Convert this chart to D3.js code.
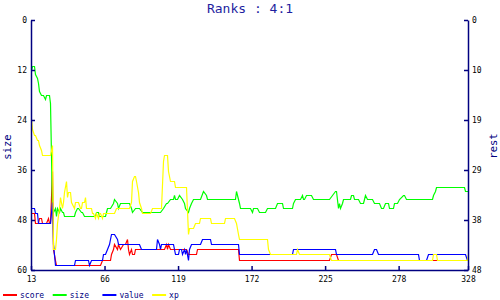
<!DOCTYPE html>
<html>
<head>
<meta charset="utf-8">
<script src="https://cdn.jsdelivr.net/npm/d3@7"></script>
<style>
  body { margin: 0; background: #fff; }
  text { font-family: "DejaVu Sans Mono", monospace; }
</style>
</head>
<body>
<div id="chart"></div>
<script>
// ranks per turn
var xTicks = [13, 66, 119, 172, 225, 278, 328];
var leftTicks = [0, 12, 24, 36, 48, 60];
var rightTicks = [0, 9.6, 19.2, 28.8, 38.4, 48];

var score = [[13,37],[15,37],[16,39],[18,39],[19,38],[20,38],[21,39],[24,39],[25,38],[26,39],[27,39],[28,29],[29,44],[30,46],[31,47],[63,47],[64,46],[70,46],[71,45],[72,44],[73,43],[75,44],[76,43],[77,44],[79,43],[81,43],[82,42],[83,44],[84,45],[85,44],[86,45],[87,45],[88,44],[109,44],[110,43],[111,44],[112,43],[113,44],[125,44],[126,45],[132,45],[133,44],[162,44],[163,46],[228,46],[229,45],[233,45],[234,46],[328,46]];

var size = [[13,12],[14,11],[15,11],[16,13],[17,14],[18,15],[19,17],[20,18],[22,18],[23,19],[24,18],[26,18],[27,20],[28,45],[29,46],[30,45],[31,47],[32,45],[33,46],[34,45],[35,46],[36,46],[37,47],[44,47],[45,46],[46,45],[47,45],[49,46],[50,46],[51,47],[59,47],[60,46],[61,46],[62,47],[66,47],[67,46],[68,45],[70,45],[72,44],[73,43],[75,44],[76,45],[77,44],[84,44],[85,45],[86,46],[88,45],[91,45],[93,46],[106,46],[108,45],[110,44],[111,44],[113,43],[115,43],[116,42],[117,43],[118,43],[120,42],[122,43],[123,44],[124,45],[126,46],[127,45],[128,44],[130,43],[135,43],[137,41],[139,42],[140,43],[160,43],[161,41],[162,43],[163,44],[164,45],[171,45],[172,46],[173,45],[176,45],[177,46],[182,46],[183,45],[189,45],[190,44],[194,44],[195,45],[201,45],[202,44],[203,43],[207,43],[208,42],[209,43],[210,43],[211,42],[215,42],[216,43],[228,43],[230,42],[232,41],[233,41],[234,45],[235,44],[236,45],[237,44],[238,43],[243,43],[244,42],[245,42],[246,43],[249,43],[250,44],[252,44],[253,43],[254,42],[255,43],[259,43],[260,44],[264,44],[265,45],[267,45],[268,44],[270,44],[271,45],[274,45],[275,44],[277,44],[278,43],[281,42],[282,42],[283,43],[302,43],[303,42],[304,41],[305,40],[325,40],[326,41],[328,41]];

var value = [[13,36],[15,36],[16,37],[17,37],[18,39],[27,39],[28,35],[29,43],[30,47],[44,47],[45,46],[54,46],[55,47],[56,46],[64,46],[65,45],[66,45],[68,44],[69,43],[70,42],[71,41],[73,41],[75,42],[76,43],[91,43],[92,44],[103,44],[104,42],[105,43],[106,44],[107,43],[115,43],[116,44],[117,45],[119,45],[120,44],[121,44],[122,45],[123,44],[124,45],[125,44],[126,46],[127,44],[128,43],[135,43],[136,42],[142,42],[143,43],[162,43],[163,45],[201,45],[202,44],[232,44],[233,45],[259,45],[260,44],[262,44],[263,45],[292,45],[293,46],[298,46],[299,45],[326,45],[327,46],[328,46]];

var xp = [[13,19],[14,21],[15,22],[16,22],[17,23],[18,23],[19,24],[20,25],[21,26],[27,26],[28,24],[29,44],[30,44],[31,42],[32,39],[33,36],[34,34],[35,36],[36,35],[37,33],[38,31],[39,34],[40,33],[41,33],[42,35],[44,36],[45,35],[47,35],[48,36],[49,36],[50,35],[51,35],[52,34],[53,36],[56,36],[57,37],[58,37],[59,38],[60,37],[61,38],[62,37],[63,37],[64,38],[65,37],[73,37],[74,36],[84,36],[85,35],[86,31],[87,30],[88,30],[89,31],[90,33],[91,35],[92,36],[93,37],[99,37],[100,36],[107,36],[108,27],[109,26],[111,26],[112,29],[113,31],[116,31],[117,32],[125,32],[126,41],[127,40],[130,40],[131,39],[134,39],[135,38],[142,38],[143,39],[152,39],[153,38],[159,38],[161,39],[162,41],[163,42],[183,42],[184,44],[185,45],[204,45],[205,44],[206,45],[228,45],[229,46],[302,46],[303,45],[305,45],[306,46],[327,46],[328,45]];

var names = ["score", "size", "value", "xp"];
var colors = ["#ff0000", "#00ff00", "#0000ff", "#ffff00"];

var width = 500,
    height = 300;
var navy = "#000080";

var svg = d3.select("#chart").append("svg")
    .attr("width", width)
    .attr("height", height)

var x = d3.scaleLinear().domain([13, 328]).range([31, 468]);
var yL = d3.scaleLinear().domain([0, 60]).range([20, 270]);
var yR = d3.scaleLinear().domain([0, 48]).range([20, 270]);

// snap to pixel centres so flat runs stay sharp
function px(v) { return Math.round(v) + 0.5; }

// title
svg.append("text")
    .attr("x", 250).attr("y", 13)
    .attr("text-anchor", "middle")
    .attr("font-size", 13)
    .attr("fill", "#1f1f9f")
    .text("Ranks : 4:1");

// series, yellow drawn last like the original
var series = [
    {data: score, y: yR},
    {data: size, y: yL},
    {data: value, y: yR},
    {data: xp, y: yR}
];
series.forEach(function (s, i) {
    var line = d3.line()
        .x(function (d) { return px(x(d[0])); })
        .y(function (d) { return px(s.y(d[1])); });
    svg.append("path")
        .attr("d", line(s.data))
        .attr("fill", "none")
        .attr("stroke", colors[i])
        .attr("stroke-width", 1.2)
        .attr("stroke-linejoin", "miter");
});

function styleAxis(g) {
    g.attr("font-family", "DejaVu Sans Mono").attr("font-size", 8);
    g.select(".domain").attr("stroke", navy).attr("stroke-width", 1.5);
    g.selectAll(".tick line").attr("stroke", navy).attr("stroke-width", 1.5);
    g.selectAll(".tick text").attr("fill", "#000");
}

svg.append("g")
    .attr("transform", "translate(31,0)")
    .call(d3.axisLeft(yL).tickValues(leftTicks).tickSize(-4).tickSizeOuter(0).tickPadding(4))
    .call(styleAxis);

svg.append("g")
    .attr("transform", "translate(468,0)")
    .call(d3.axisRight(yR).tickValues(rightTicks).tickFormat(d3.format(".0f"))
        .tickSize(-4).tickSizeOuter(0).tickPadding(4))
    .call(styleAxis);

svg.append("g")
    .attr("transform", "translate(0,270)")
    .call(d3.axisBottom(x).tickValues(xTicks).tickSize(-4).tickSizeOuter(0).tickPadding(6))
    .call(styleAxis);

// axis titles
svg.append("text")
    .attr("transform", "translate(11,147) rotate(-90)")
    .attr("text-anchor", "middle")
    .attr("font-size", 10.5)
    .attr("fill", navy)
    .text("size");

svg.append("text")
    .attr("transform", "translate(497,146) rotate(-90)")
    .attr("text-anchor", "middle")
    .attr("font-size", 10.5)
    .attr("fill", navy)
    .text("rest");

// legend
var leg = svg.selectAll(".leg")
    .data(names).enter().append("g")
    .attr("class", "leg")
    .attr("transform", function (d, i) { return "translate(" + (3 + i * 49.7) + ",295)"; });

leg.append("line")
    .attr("x1", 0).attr("x2", 14)
    .attr("stroke", function (d, i) { return colors[i]; })
    .attr("stroke-width", 2);

leg.append("text")
    .attr("x", 17).attr("y", 3)
    .attr("font-size", 8)
    .attr("fill", navy)
    .text(function (d) { return d; });
</script>
</body>
</html>
